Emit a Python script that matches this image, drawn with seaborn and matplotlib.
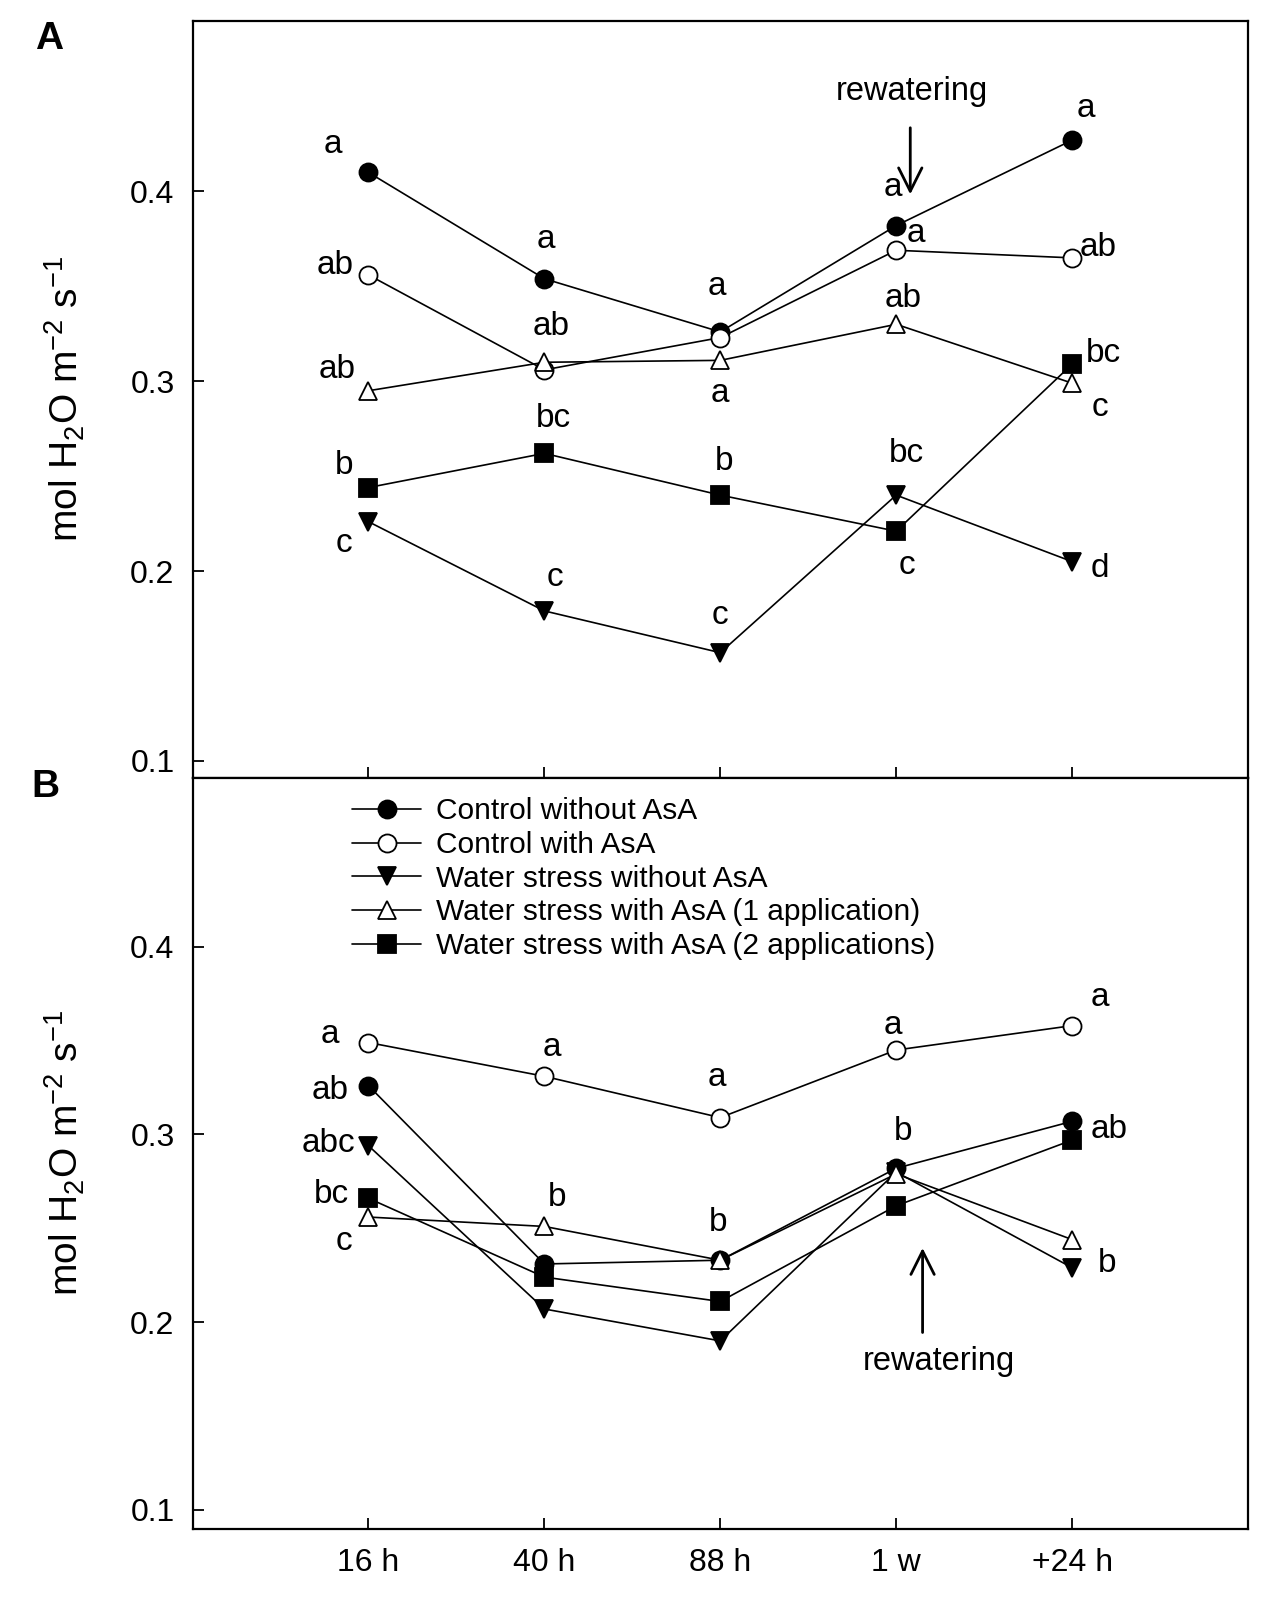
import numpy as np
import pandas as pd
import matplotlib
matplotlib.use("Agg")
import matplotlib.pyplot as plt
import seaborn as sns

# ---------------- data ----------------
times = ["16 h", "40 h", "88 h", "1 w", "+24 h"]
series = ["Control without AsA", "Control with AsA", "Water stress without AsA",
          "Water stress with AsA (1 application)", "Water stress with AsA (2 applications)"]

a_ctrl = [0.410, 0.354, 0.326, 0.382, 0.427]
a_ctrl_asa = [0.356, 0.306, 0.323, 0.369, 0.365]
a_ws = [0.226, 0.179, 0.157, 0.240, 0.205]
a_ws_asa1 = [0.295, 0.310, 0.311, 0.330, 0.299]
a_ws_asa2 = [0.244, 0.262, 0.240, 0.221, 0.309]

b_ctrl = [0.326, 0.231, 0.233, 0.282, 0.307]
b_ctrl_asa = [0.349, 0.331, 0.309, 0.345, 0.358]
b_ws = [0.294, 0.207, 0.190, 0.280, 0.229]
b_ws_asa1 = [0.256, 0.251, 0.233, 0.279, 0.244]
b_ws_asa2 = [0.266, 0.224, 0.211, 0.262, 0.297]

letters_A = [("a", -0.20, 0.4245), ("ab", -0.19, 0.361), ("ab", -0.18, 0.306), ("b", -0.14, 0.2554),
             ("c", -0.14, 0.2147),
             ("a", 1.01, 0.3745), ("ab", 1.04, 0.3288), ("bc", 1.05, 0.2804), ("c", 1.06, 0.1967),
             ("a", 1.98, 0.350), ("a", 2.00, 0.2935), ("b", 2.02, 0.2576), ("c", 2.00, 0.1766),
             ("a", 2.98, 0.402), ("a", 3.11, 0.378), ("ab", 3.04, 0.3435), ("bc", 3.06, 0.262),
             ("c", 3.06, 0.2027),
             ("a", 4.08, 0.4435), ("ab", 4.15, 0.3707), ("bc", 4.18, 0.3147), ("c", 4.16, 0.2864),
             ("d", 4.16, 0.2016)]
letters_B = [("a", -0.22, 0.3534), ("ab", -0.22, 0.3232), ("abc", -0.23, 0.2952), ("bc", -0.21, 0.2678),
             ("c", -0.14, 0.2431),
             ("a", 1.04, 0.3462), ("b", 1.07, 0.2662),
             ("a", 1.98, 0.3303), ("b", 1.99, 0.253),
             ("a", 2.98, 0.3583), ("b", 3.04, 0.3018),
             ("a", 4.16, 0.3731), ("ab", 4.21, 0.3029), ("b", 4.20, 0.231)]

panel_values = {
    "A": [a_ctrl, a_ctrl_asa, a_ws, a_ws_asa1, a_ws_asa2],
    "B": [b_ctrl, b_ctrl_asa, b_ws, b_ws_asa1, b_ws_asa2],
}

# ---------------- style ----------------
sns.set_theme(style="white")
plt.rcParams['font.family'] = ['Liberation Sans', 'DejaVu Sans']
plt.rcParams['mathtext.default'] = 'regular'
for k in ("text.color", "axes.labelcolor", "xtick.color", "ytick.color", "axes.edgecolor"):
    plt.rcParams[k] = "black"

markers = ["o", "o", "v", "^", "s"]
faces = ["black", "white", "black", "white", "black"]

fig = plt.figure(figsize=(12.67, 16.09), dpi=100)
ax_a = fig.add_axes([0.152, 0.5165, 0.833, 0.4707])
ax_b = fig.add_axes([0.152, 0.050, 0.833, 0.4665])

x_pos = np.arange(len(times))

for key, ax in (("A", ax_a), ("B", ax_b)):
    rows = []
    for s, vals in zip(series, panel_values[key]):
        for xp, v in zip(x_pos, vals):
            rows.append({"series": s, "x": xp, "value": v})
    df = pd.DataFrame(rows)
    for s, m, fc in zip(series, markers, faces):
        sub = df[df["series"] == s]
        sns.lineplot(data=sub, x="x", y="value", ax=ax, color="black", lw=1.2,
                     marker=m, markersize=13, markerfacecolor=fc, markeredgecolor="black",
                     markeredgewidth=1.3, sort=False, errorbar=None,
                     label=s if key == "B" else None, legend=(key == "B"))
    ax.set_xlim(-1, 5)
    ax.set_xticks(x_pos)
    ax.set_yticks([0.1, 0.2, 0.3, 0.4])
    ax.set_yticklabels(["0.1", "0.2", "0.3", "0.4"])
    ax.tick_params(axis="both", direction="in", length=8, width=1.3, labelsize=23,
                   bottom=True, left=True, top=False, right=False, colors="black")
    ax.tick_params(axis="y", pad=13)
    ax.tick_params(axis="x", pad=14)
    for sp in ax.spines.values():
        sp.set_visible(True)
        sp.set_color("black")
        sp.set_linewidth(1.6)
    ax.set_xlabel("")
    ax.set_ylabel("mol H$_2$O m$^{-2}$ s$^{-1}$", fontsize=28)
    ax.yaxis.set_label_coords(-0.10, 0.5)

ax_a.set_ylim(0.091, 0.49)
ax_b.set_ylim(0.090, 0.49)
ax_a.set_xticklabels([])
ax_b.set_xticklabels(times)

for lab, x, y in letters_A:
    ax_a.text(x, y, lab, ha="center", va="center", fontsize=24)
for lab, x, y in letters_B:
    ax_b.text(x, y, lab, ha="center", va="center", fontsize=24)

# rewatering arrows
ax_a.annotate("", xy=(3.08, 0.397), xytext=(3.08, 0.435),
              arrowprops=dict(arrowstyle="->", lw=2.0, color="black", mutation_scale=42))
ax_a.text(3.09, 0.4527, "rewatering", ha="center", va="center", fontsize=23.5)
ax_b.annotate("", xy=(3.15, 0.241), xytext=(3.15, 0.193),
              arrowprops=dict(arrowstyle="->", lw=2.0, color="black", mutation_scale=42))
ax_b.text(3.24, 0.179, "rewatering", ha="center", va="center", fontsize=23.5)

leg = ax_b.legend(loc="upper left", bbox_to_anchor=(0.14, 0.99), frameon=False,
                  fontsize=21.5, handlelength=2.3, handletextpad=0.5, labelspacing=0.19,
                  borderaxespad=0.0)

fig.text(0.039, 0.976, "A", fontsize=28, fontweight="bold", ha="center", va="center")
fig.text(0.036, 0.511, "B", fontsize=28, fontweight="bold", ha="center", va="center")

fig.savefig("out.png", dpi=100)
